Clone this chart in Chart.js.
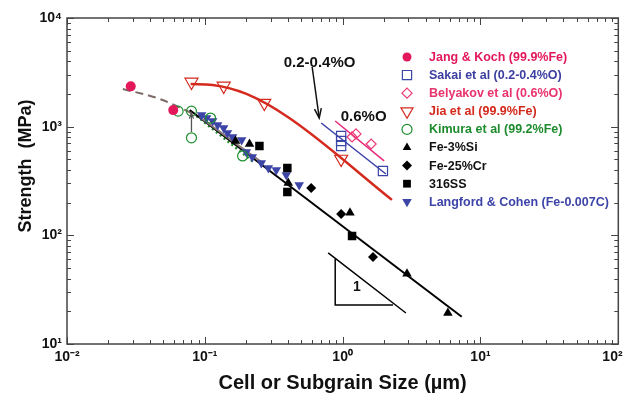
<!DOCTYPE html>
<html><head><meta charset="utf-8">
<script src="https://cdn.jsdelivr.net/npm/chart.js@4.4.1/dist/chart.umd.min.js"></script>
<style>html,body{margin:0;padding:0;background:#fff;}#wrap{width:627px;height:395px;}</style>
</head><body><div id="wrap"><canvas id="c" width="627" height="395"></canvas></div>
<script>
// ---- tick labels ----
const xTicks = [0.01, 0.1, 1, 10, 100];
const xTickLabels = ['10⁻²', '10⁻¹', '10⁰', '10¹', '10²   '];
const yTicks = [10, 100, 1000, 10000];
const yTickLabels = ['10¹', '10²', '10³', '10⁴'];

// ---- series (cell size µm, strength MPa) ----
const jangX = [0.029, 0.059];
const jangY = [2350, 1420];
const sakaiX = [0.975, 0.975, 0.975, 1.96];
const sakaiY = [820, 738, 664, 391];
const belyX = [1.17, 1.25, 1.61];
const belyY = [804, 857, 693];
const jiaX = [0.080, 0.137, 0.270, 0.975];
const jiaY = [2580, 2370, 1650, 504];
const kimuraX = [0.064, 0.080, 0.080, 0.110, 0.188];
const kimuraY = [1390, 1390, 790, 1200, 538];
const fesiX = [0.167, 0.211, 0.403, 1.13, 2.93, 5.80];
const fesiY = [738, 693, 303, 161, 44.2, 19.3];
const fecrX = [0.591, 0.975, 1.66];
const fecrY = [273, 157, 63.3];
const ssX = [0.249, 0.397, 0.397, 1.17];
const ssY = [664, 417, 251, 98.7];
const langX = [0.0947, 0.103, 0.114, 0.124, 0.137, 0.146, 0.159, 0.185, 0.200, 0.221, 0.257, 0.289, 0.330, 0.390, 0.484];
const langY = [1282, 1202, 1128, 1037, 973, 875, 804, 755, 585, 526, 464, 417, 400, 359, 291];

// ---- fitted / guide lines ----
const jiaLineX = [0.0789, 0.114, 0.2005, 0.410, 2.28];
const jiaLineY = [2470, 2420, 2000, 1202, 212];
const sakaiLineX = [0.699, 2.06];
const sakaiLineY = [1081, 367];
const belyLineX = [0.883, 2.0];
const belyLineY = [1128, 484];
const fitLineX = [0.0776, 7.31];
const fitLineY = [1425, 17.8];
const dashLineX = [0.0254, 0.0471, 0.0917];
const dashLineY = [2222, 1798, 1228];
const grayLineX = [0.0917, 0.262];
const grayLineY = [1228, 464];
const kimLineX = [0.0871, 0.229];
const kimLineY = [1254, 464];
const slopeHypX = [0.785, 2.878];
const slopeHypY = [68.9, 19.3];
const slopeLegX = [0.883, 0.883, 2.318];
const slopeLegY = [60.7, 22.9, 22.9];

const pts = (xs, ys) => xs.map((x, i) => ({x: x, y: ys[i]}));

const C = {
  jang: '#e2185b', sakai: '#3a45a8', bely: '#ec3a78', jia: '#d3281d',
  kim: '#1f8f2f', black: '#000000', lang: '#3c44a6'
};

function scatter(label, xs, ys, style, color, radius, filled, rot) {
  return {
    type: 'scatter', label: label, data: pts(xs, ys), pointStyle: style,
    rotation: rot || 0, pointRadius: radius, borderColor: color,
    backgroundColor: filled ? color : 'rgba(0,0,0,0)', borderWidth: filled ? 0 : 1.2,
    showLine: false, order: 1
  };
}
function line(xs, ys, color, width, dash, tension) {
  return {
    type: 'line', label: '', data: pts(xs, ys), borderColor: color, borderWidth: width,
    borderDash: dash || [], pointRadius: 0, fill: false, order: 5,
    cubicInterpolationMode: tension ? 'monotone' : 'default'
  };
}

const datasets = [
  scatter('Jang & Koch (99.9%Fe)', jangX, jangY, 'circle', C.jang, 5, true),
  scatter('Sakai et al (0.2-0.4%O)', sakaiX, sakaiY, 'rect', C.sakai, 6.5, false),
  scatter('Belyakov et al (0.6%O)', belyX, belyY, 'rectRot', C.bely, 5, false),
  scatter('Jia et al (99.9%Fe)', jiaX, jiaY, 'triangle', C.jia, 7.5, false, 180),
  scatter('Kimura et al (99.2%Fe)', kimuraX, kimuraY, 'circle', C.kim, 5, false),
  scatter('Fe-3%Si', fesiX, fesiY, 'triangle', C.black, 5.5, true),
  scatter('Fe-25%Cr', fecrX, fecrY, 'rectRot', C.black, 5, true),
  scatter('316SS', ssX, ssY, 'rect', C.black, 6, true),
  scatter('Langford & Cohen (Fe-0.007C)', langX, langY, 'triangle', C.lang, 5.5, true, 180),
  line(jiaLineX, jiaLineY, '#d42b1e', 2.5, null, true),
  line(sakaiLineX, sakaiLineY, '#3a40a8', 1.5),
  line(belyLineX, belyLineY, '#e8287a', 1.5),
  line(grayLineX, grayLineY, '#8c7b77', 2),
  line(fitLineX, fitLineY, '#000000', 2),
  line(dashLineX, dashLineY, '#7b6a66', 2, [8, 5], true),
  line(kimLineX, kimLineY, '#1f8f2f', 2.5, [2, 3]),
  line(slopeHypX, slopeHypY, '#000000', 1.5),
  line(slopeLegX, slopeLegY, '#000000', 1.5)
];

const FONT = "'Liberation Sans', Arial, Helvetica, sans-serif";

function arrow(ctx, x1, y1, x2, y2, head, color, width) {
  ctx.save();
  ctx.strokeStyle = color; ctx.lineWidth = width;
  ctx.beginPath(); ctx.moveTo(x1, y1); ctx.lineTo(x2, y2); ctx.stroke();
  const a = Math.atan2(y2 - y1, x2 - x1);
  ctx.beginPath();
  ctx.moveTo(x2 - head * Math.cos(a - 0.35), y2 - head * Math.sin(a - 0.35));
  ctx.lineTo(x2, y2);
  ctx.lineTo(x2 - head * Math.cos(a + 0.35), y2 - head * Math.sin(a + 0.35));
  ctx.stroke();
  ctx.restore();
}

const decor = {
  id: 'decor',
  afterDatasetsDraw(chart) {
    const ctx = chart.ctx, xs = chart.scales.x, ys = chart.scales.y;
    const a = chart.chartArea;
    ctx.save();
    // frame
    ctx.strokeStyle = '#444'; ctx.lineWidth = 1.5;
    ctx.strokeRect(a.left, a.top, a.right - a.left, a.bottom - a.top);
    // ticks (inward, mirrored)
    ctx.lineWidth = 1; ctx.strokeStyle = '#444';
    for (let e = -2; e < 2; e++) {
      for (let m = 1; m <= 10; m++) {
        const v = m * Math.pow(10, e);
        const px = Math.round(xs.getPixelForValue(v)) + 0.5;
        const len = (m === 1 || m === 10) ? 7 : 4;
        ctx.beginPath();
        ctx.moveTo(px, a.bottom); ctx.lineTo(px, a.bottom - len);
        ctx.moveTo(px, a.top); ctx.lineTo(px, a.top + len);
        ctx.stroke();
      }
    }
    for (let e = 1; e < 4; e++) {
      for (let m = 1; m <= 10; m++) {
        const v = m * Math.pow(10, e);
        const py = Math.round(ys.getPixelForValue(v)) + 0.5;
        const len = (m === 1 || m === 10) ? 7 : 4;
        ctx.beginPath();
        ctx.moveTo(a.left, py); ctx.lineTo(a.left + len, py);
        ctx.moveTo(a.right, py); ctx.lineTo(a.right - len, py);
        ctx.stroke();
      }
    }
    // small arrow (Kimura)
    arrow(ctx, xs.getPixelForValue(0.080), ys.getPixelForValue(893),
          xs.getPixelForValue(0.080), ys.getPixelForValue(1336), 6, '#555', 1.3);
    // annotation arrow
    arrow(ctx, xs.getPixelForValue(0.601), ys.getPixelForValue(3542),
          xs.getPixelForValue(0.676), ys.getPixelForValue(1202), 10, '#111', 1.5);
    // annotation texts
    ctx.fillStyle = '#111';
    ctx.font = 'bold 15px ' + FONT;
    ctx.textAlign = 'center'; ctx.textBaseline = 'middle';
    ctx.fillText('0.2-0.4%O', xs.getPixelForValue(0.68), ys.getPixelForValue(3900));
    ctx.fillText('0.6%O', xs.getPixelForValue(1.42), ys.getPixelForValue(1235));
    ctx.font = 'bold 14px ' + FONT;
    ctx.fillText('1', xs.getPixelForValue(1.27), ys.getPixelForValue(33.5));
    // legend
    const legend = [
      ['Jang & Koch (99.9%Fe)', C.jang, 'circle', 0, 4.5, true, '#e2185b'],
      ['Sakai et al (0.2-0.4%O)', C.sakai, 'rect', 0, 6.5, false, '#3d3fa0'],
      ['Belyakov et al (0.6%O)', C.bely, 'rectRot', 0, 5, false, '#e8336e'],
      ['Jia et al (99.9%Fe)', C.jia, 'triangle', 180, 7, false, '#d42a1e'],
      ['Kimura et al (99.2%Fe)', C.kim, 'circle', 0, 5, false, '#1e8c2e'],
      ['Fe-3%Si', C.black, 'triangle', 0, 5, true, '#111'],
      ['Fe-25%Cr', C.black, 'rectRot', 0, 5, true, '#111'],
      ['316SS', C.black, 'rect', 0, 5.5, true, '#111'],
      ['Langford & Cohen (Fe-0.007C)', C.lang, 'triangle', 180, 5.5, true, '#3d44a8']
    ];
    const y0 = 57, dy = 18.1;
    ctx.font = 'bold 12.5px ' + FONT;
    ctx.textAlign = 'left'; ctx.textBaseline = 'middle';
    legend.forEach((it, i) => {
      const y = y0 + i * dy;
      ctx.save();
      ctx.fillStyle = it[5] ? it[1] : 'rgba(0,0,0,0)';
      ctx.strokeStyle = it[1];
      ctx.lineWidth = 1.2;
      Chart.helpers.drawPoint(ctx, {pointStyle: it[2], rotation: it[3], radius: it[4], borderWidth: it[5] ? 0 : 1.2}, 407, y);
      ctx.restore();
      ctx.fillStyle = it[6];
      ctx.fillText(it[0], 429, y + 0.5);
    });
    ctx.restore();
  }
};

new Chart(document.getElementById('c'), {
  data: {datasets: datasets},
  options: {
    responsive: false, animation: false, devicePixelRatio: 1,
    layout: {padding: {top: 18, right: 7, left: 0, bottom: 0}},
    plugins: {legend: {display: false}, tooltip: {enabled: false}},
    scales: {
      x: {
        type: 'logarithmic', min: 0.01, max: 100, position: 'bottom',
        grid: {display: false, drawTicks: false},
        border: {display: false},
        afterBuildTicks: s => { s.ticks = xTicks.map(v => ({value: v})); },
        afterFit: s => { s.height = 51; s.paddingLeft = 0; s.paddingRight = 0; },
        ticks: {
          autoSkip: false, maxRotation: 0, padding: 5, color: '#111',
          font: {family: FONT, size: 14, weight: 'bold'},
          callback: (v) => { const i = xTicks.indexOf(v); return i >= 0 ? xTickLabels[i] : ''; }
        },
        title: {display: true, text: 'Cell or Subgrain Size (µm)', color: '#111',
          font: {family: FONT, size: 20, weight: 'bold'}, padding: {top: 0, bottom: 0}}
      },
      y: {
        type: 'logarithmic', min: 10, max: 10000, position: 'left',
        grid: {display: false, drawTicks: false},
        border: {display: false},
        afterBuildTicks: s => { s.ticks = yTicks.map(v => ({value: v})); },
        afterFit: s => { s.width = 67; s.paddingTop = 0; s.paddingBottom = 0; },
        ticks: {
          autoSkip: false, padding: 5, color: '#111',
          font: {family: FONT, size: 14, weight: 'bold'},
          callback: (v) => { const i = yTicks.indexOf(v); return i >= 0 ? yTickLabels[i] : ''; }
        },
        title: {display: true, text: '      Strength  (MPa)', color: '#111',
          font: {family: FONT, size: 18, weight: 'bold'}, padding: {top: 15, bottom: 0}}
      }
    }
  },
  plugins: [decor]
});
</script></body></html>
